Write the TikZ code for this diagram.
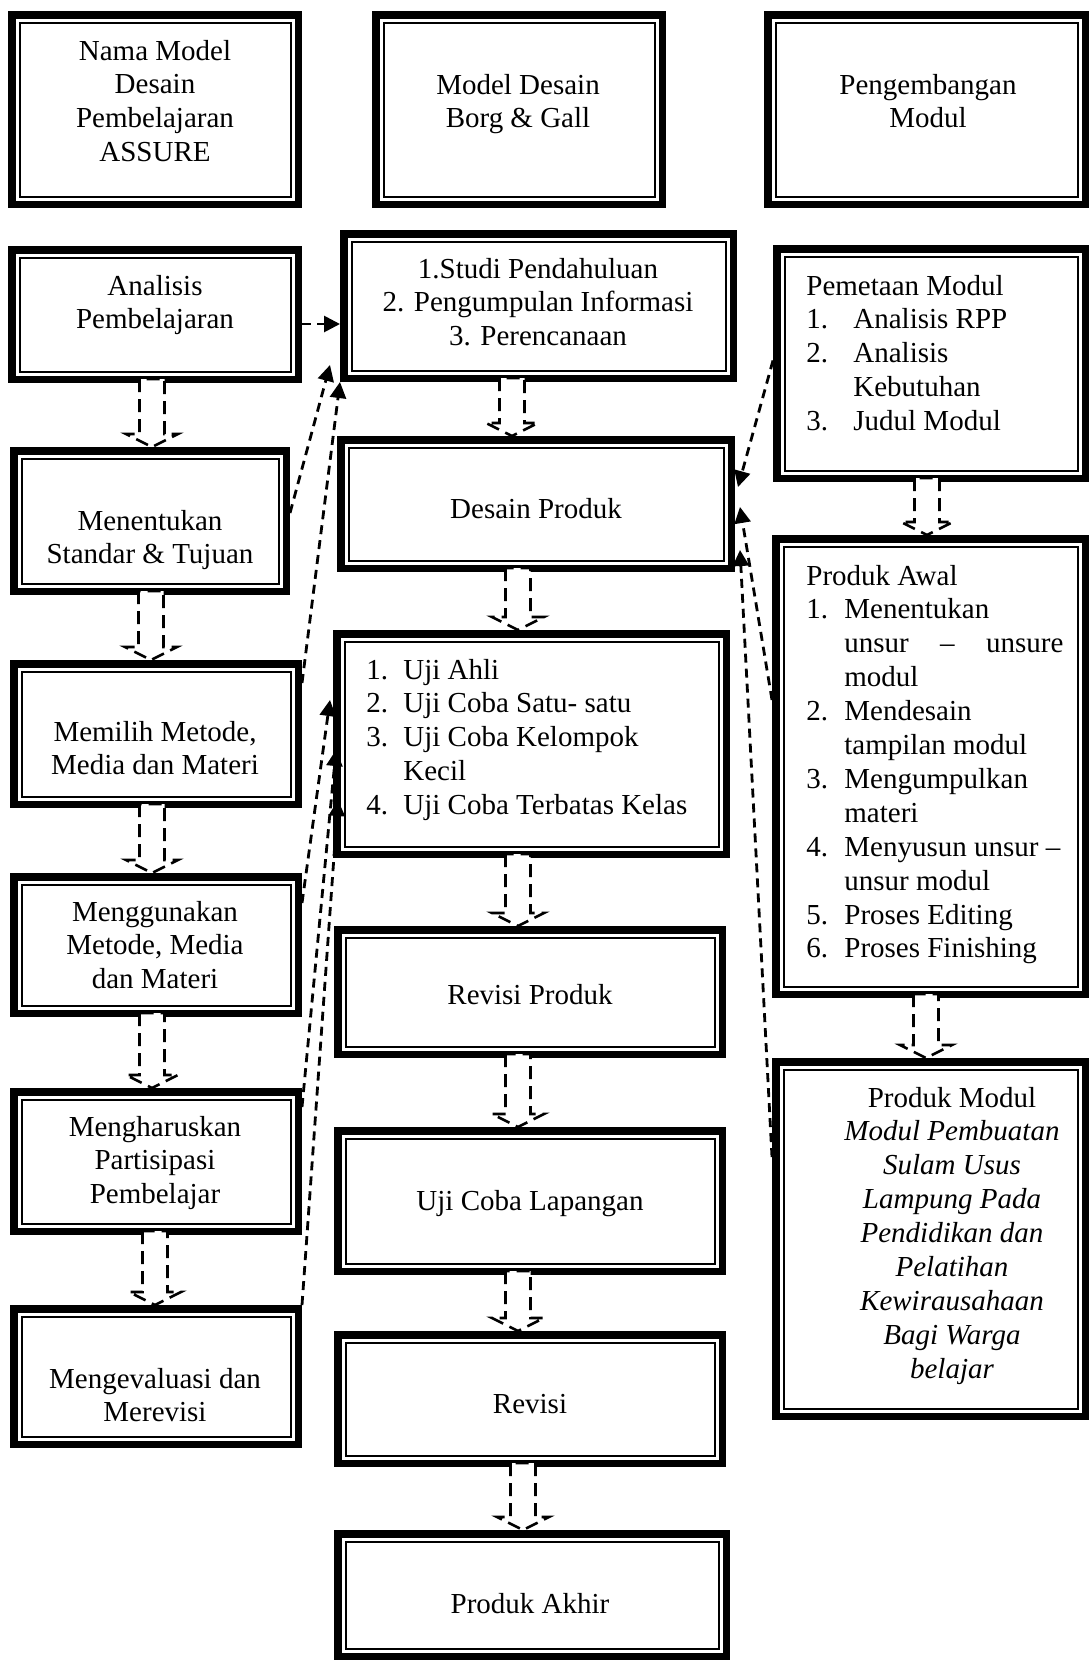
\documentclass[tikz,border=0pt]{standalone}
\usepackage{fontspec}
\setmainfont{Liberation Serif}
\usetikzlibrary{arrows.meta,calc}

\tikzset{
  bx/.style={draw, line width=3.75pt, inner sep=0pt, fill=white,
    path picture={\draw[line width=1pt]
      ([shift={(3.875pt,3.875pt)}]path picture bounding box.south west) rectangle
      ([shift={(-3.875pt,-3.875pt)}]path picture bounding box.north east);}},
  conn/.style={line width=1.4pt, dash pattern=on 4.5pt off 3pt,
    -{Triangle[length=8pt,width=8pt]}},
  blk/.style={line width=1.3pt, dash pattern=on 6.5pt off 3.5pt, fill=white},
  txt/.style={inner sep=0pt}
}

% name, x1, y1, x2, y2 (outer edges, in px)
\newcommand{\dbox}[5]{%
  \pgfmathsetmacro{\dbW}{(#4-#2-7.5)*0.5}%
  \pgfmathsetmacro{\dbH}{(#5-#3-7.5)*0.5}%
  \node[bx,minimum width=\dbW pt,minimum height=\dbH pt] (#1) at ({(#2+#4)/2},{(#3+#5)/2}) {};}
% centred text: name, x, first baseline y, lines
\newcommand{\ctext}[4]{%
  \node[txt,anchor=base] (#1) at (#2,#3) {\begin{tabular}[t]{@{}c@{}}#4\end{tabular}};}
% left text
\newcommand{\ltext}[4]{%
  \node[txt,anchor=base west] (#1) at (#2,#3) {\begin{tabular}[t]{@{}l@{}}#4\end{tabular}};}
% block arrow: source, target, centre x (px)
\newcommand{\barr}[3]{%
  \draw[blk] let \p1=(#1.south), \p2=(#2.north) in
   ({#3*0.5pt-6.25pt},{\y1+2pt}) -- ({#3*0.5pt-6.25pt},{\y2+6.5pt}) --
   ({#3*0.5pt-13pt},{\y2+6.5pt}) -- ({#3*0.5pt},{\y2}) --
   ({#3*0.5pt+13pt},{\y2+6.5pt}) -- ({#3*0.5pt+6.25pt},{\y2+6.5pt}) --
   ({#3*0.5pt+6.25pt},{\y1+2pt}) -- cycle;}
\newcommand{\nb}[2]{\makebox[#1][l]{#2}}

\begin{document}
\begin{tikzpicture}[x=0.5pt,y=-0.5pt,
  every node/.append style={font=\fontsize{14.5pt}{16.95pt}\selectfont}]
\useasboundingbox (0,0) rectangle (1089,1660);

% ---------- boxes ----------
\dbox{nama}{8}{11}{302}{208}
\dbox{analisis}{8}{246}{302}{383}
\dbox{menentukan}{10}{447}{290}{595}
\dbox{memilih}{10}{660}{302}{808}
\dbox{menggunakan}{10}{873}{302}{1017}
\dbox{mengharuskan}{10}{1088}{302}{1235}
\dbox{mengevaluasi}{10}{1305}{302}{1448}

\dbox{borg}{372}{11}{666}{208}
\dbox{studi}{340}{230}{737}{382}
\dbox{desain}{337}{436}{735}{572}
\dbox{uji}{333}{630}{730}{858}
\dbox{revprod}{334}{926}{726}{1058}
\dbox{ujilap}{334}{1127}{726}{1275}
\dbox{revisi}{334}{1331}{726}{1467}
\dbox{akhir}{334}{1530}{730}{1660}

\dbox{pengembangan}{764}{11}{1089}{208}
\dbox{pemetaan}{773}{245}{1089}{482}
\dbox{produkawal}{772}{535}{1089}{998}
\dbox{produkmodul}{772}{1058}{1089}{1420}

% ---------- texts ----------
\ctext{t-nama}{155}{60}{Nama Model\\Desain\\Pembelajaran\\ASSURE}
\ctext{t-analisis}{155}{295}{Analisis\\Pembelajaran}
\ctext{t-menentukan}{150}{530}{Menentukan\\Standar \& Tujuan}
\ctext{t-memilih}{155}{741}{Memilih Metode,\\Media dan Materi}
\ctext{t-menggunakan}{155}{921}{Menggunakan\\Metode, Media\\dan Materi}
\ctext{t-mengharuskan}{155}{1136}{Mengharuskan\\Partisipasi\\Pembelajar}
\ctext{t-mengevaluasi}{155}{1388}{Mengevaluasi dan\\Merevisi}

\ctext{t-borg}{518}{94}{Model Desain\\Borg \& Gall}
\ctext{t-studi}{538}{278}{1.Studi Pendahuluan\\2. Pengumpulan Informasi\\3. Perencanaan}
\ctext{t-desain}{536}{518}{Desain Produk}
\ltext{t-uji}{366}{679}{\nb{18.5pt}{1.}Uji Ahli\\
  \nb{18.5pt}{2.}Uji Coba Satu- satu\\
  \nb{18.5pt}{3.}Uji Coba Kelompok\\
  \nb{18.5pt}{}Kecil\\
  \nb{18.5pt}{4.}Uji Coba Terbatas Kelas}
\ctext{t-revprod}{530}{1004}{Revisi Produk}
\ctext{t-ujilap}{530}{1210}{Uji Coba Lapangan}
\ctext{t-revisi}{530}{1413}{Revisi}
\ctext{t-akhir}{530}{1613}{Produk Akhir}

\ctext{t-pengembangan}{928}{94}{Pengembangan\\Modul}
\ltext{t-pemetaan}{806}{295}{Pemetaan Modul\\
  \nb{23.5pt}{1.}Analisis RPP\\
  \nb{23.5pt}{2.}Analisis\\
  \nb{23.5pt}{}Kebutuhan\\
  \nb{23.5pt}{3.}Judul Modul}
\ltext{t-produkawal}{806}{585}{Produk Awal\\
  \nb{19pt}{1.}Menentukan\\
  \nb{19pt}{}\hbox to 109.5pt{unsur\hfill–\hfill unsure}\\
  \nb{19pt}{}modul\\
  \nb{19pt}{2.}Mendesain\\
  \nb{19pt}{}tampilan modul\\
  \nb{19pt}{3.}Mengumpulkan\\
  \nb{19pt}{}materi\\
  \nb{19pt}{4.}Menyusun unsur –\\
  \nb{19pt}{}unsur modul\\
  \nb{19pt}{5.}Proses Editing\\
  \nb{19pt}{6.}Proses Finishing}
\ctext{t-produkmodul}{952}{1107}{Produk Modul\\
  \textit{Modul Pembuatan}\\\textit{Sulam Usus}\\\textit{Lampung Pada}\\
  \textit{Pendidikan dan}\\\textit{Pelatihan}\\\textit{Kewirausahaan}\\
  \textit{Bagi Warga}\\\textit{belajar}}

% ---------- block arrows ----------
\barr{analisis}{menentukan}{152}
\barr{menentukan}{memilih}{151}
\barr{memilih}{menggunakan}{152}
\barr{menggunakan}{mengharuskan}{152}
\barr{mengharuskan}{mengevaluasi}{155}
\barr{studi}{desain}{512}
\barr{desain}{uji}{518}
\barr{uji}{revprod}{518}
\barr{revprod}{ujilap}{518}
\barr{ujilap}{revisi}{518}
\barr{revisi}{akhir}{523}
\barr{pemetaan}{produkawal}{927}
\barr{produkawal}{produkmodul}{926}

% ---------- connectors ----------
\draw[conn] ($(analisis.east)+(0,9.5)$) -- ($(studi.west)+(0,18)$);
\draw[conn] ($(menentukan.east)+(0,-8)$) -- ($(studi.south west)+(-10,-17)$);
\draw[conn] ($(memilih.east)+(0,-51)$) -- (studi.south west);
\draw[conn] ($(menggunakan.east)+(0,-42)$) -- ($(uji.west)+(-3,-44)$);
\draw[conn] ($(mengharuskan.east)+(0,-54.5)$) -- ($(uji.west)+(3,6)$);
\draw[conn] (mengevaluasi.north east) -- ($(uji.west)+(5,56)$);
\draw[conn] ($(pemetaan.west)+(0,-3)$) -- ($(desain.east)+(3,-17)$);
\draw[conn] ($(produkawal.west)+(0,-66.5)$) -- ($(desain.east)+(5,3)$);
\draw[conn] ($(produkmodul.west)+(0,-82)$) -- ($(desain.east)+(5,46)$);
\end{tikzpicture}
\end{document}
